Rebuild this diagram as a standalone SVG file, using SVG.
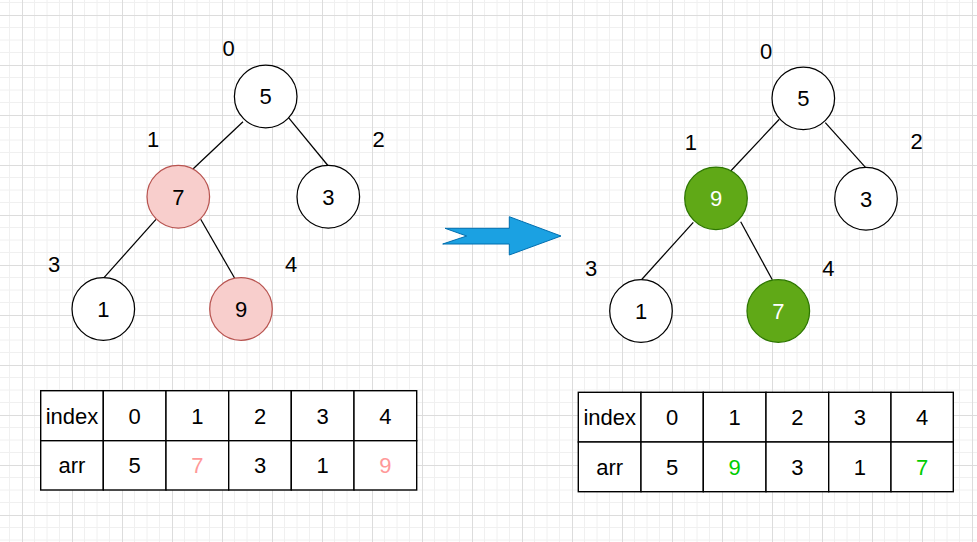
<svg xmlns="http://www.w3.org/2000/svg" width="977" height="542" viewBox="0 0 977 542">
  <defs>
    <pattern id="grid" x="22" y="15" width="50" height="50" patternUnits="userSpaceOnUse">
      <path d="M12.5 0V50M25 0V50M37.5 0V50M0 12.5H50M0 25H50M0 37.5H50" stroke="#f0f0f0" stroke-width="1" fill="none"/>
      <path d="M0.5 0V50M0 0.5H50" stroke="#dcdcdc" stroke-width="1" fill="none"/>
    </pattern>
    <style>
      text { font-family: "Liberation Sans", Arial, Helvetica, sans-serif; text-anchor: middle; fill: #000; }
      .nodeTxt { font-size: 22px; }
      .idx { font-size: 22px; }
      .tbl { font-size: 22px; }
      .plain { fill: #ffffff; stroke: #000; stroke-width: 1.25; }
      .pink { fill: #f8cecc; stroke: #b85450; stroke-width: 1.25; }
      .green { fill: #60a917; stroke: #2d7600; stroke-width: 1.25; }
      .white { fill: #ffffff; }
      .edge { stroke: #000; stroke-width: 1.25; fill: none; }
      .cell { fill: #ffffff; stroke: #000; stroke-width: 1.4; }
      .red { fill: #ff9999; }
      .grn { fill: #00cc00; }
    </style>
  </defs>
  <rect width="977" height="542" fill="#ffffff"/>
  <rect width="977" height="542" fill="url(#grid)"/>

  <g id="connectors">
    <line class="edge" x1="243" y1="121.7" x2="192.7" y2="169.3"/>
    <line class="edge" x1="288.3" y1="117.3" x2="328.3" y2="166"/>
    <line class="edge" x1="156" y1="219.3" x2="104" y2="277.7"/>
    <line class="edge" x1="200.7" y1="219.3" x2="234.7" y2="278.3"/>
    <line class="edge" x1="779.3" y1="119.3" x2="730" y2="171.7"/>
    <line class="edge" x1="825.3" y1="122.7" x2="865.7" y2="167.7"/>
    <line class="edge" x1="693.3" y1="222.3" x2="641.7" y2="279.5"/>
    <line class="edge" x1="740.7" y1="221.7" x2="772.3" y2="279.8"/>
  </g>

  <!-- Left tree -->
  <g id="L-node-5"><circle class="plain" cx="265.7" cy="96.5" r="31.3"/><text class="nodeTxt" x="265.7" y="104.3">5</text></g>
  <g id="L-node-7"><circle class="pink" cx="178.3" cy="196.7" r="31.3"/><text class="nodeTxt" x="178.3" y="204.5">7</text></g>
  <g id="L-node-3"><circle class="plain" cx="328.3" cy="196.7" r="31.3"/><text class="nodeTxt" x="328.3" y="204.5">3</text></g>
  <g id="L-node-1"><circle class="plain" cx="103.3" cy="309" r="31.3"/><text class="nodeTxt" x="103.3" y="316.8">1</text></g>
  <g id="L-node-9"><circle class="pink" cx="241" cy="309" r="31.3"/><text class="nodeTxt" x="241" y="316.8">9</text></g>

  <g id="L-index-labels">
    <text class="idx" x="228.5" y="55.7">0</text>
    <text class="idx" x="153" y="147">1</text>
    <text class="idx" x="378.5" y="146.7">2</text>
    <text class="idx" x="54" y="271.7">3</text>
    <text class="idx" x="291" y="272">4</text>
  </g>

  <!-- Right tree -->
  <g id="R-node-5"><circle class="plain" cx="803.3" cy="98.3" r="31.3"/><text class="nodeTxt" x="803.3" y="106.1">5</text></g>
  <g id="R-node-9"><circle class="green" cx="716" cy="198.3" r="31.3"/><text class="nodeTxt white" x="716" y="206.1">9</text></g>
  <g id="R-node-3"><circle class="plain" cx="866" cy="198.7" r="31.3"/><text class="nodeTxt" x="866" y="206.5">3</text></g>
  <g id="R-node-1"><circle class="plain" cx="641" cy="311" r="31.3"/><text class="nodeTxt" x="641" y="318.8">1</text></g>
  <g id="R-node-7"><circle class="green" cx="778.3" cy="311" r="31.3"/><text class="nodeTxt white" x="778.3" y="318.8">7</text></g>

  <g id="R-index-labels">
    <text class="idx" x="766" y="59.3">0</text>
    <text class="idx" x="690.8" y="150.3">1</text>
    <text class="idx" x="916.5" y="149">2</text>
    <text class="idx" x="591" y="275.7">3</text>
    <text class="idx" x="828.3" y="275.7">4</text>
  </g>

  <!-- Arrow -->
  <g id="arrow">
    <polygon points="445,228.3 509.3,228.3 509.3,216.7 561,236 509.3,255 509.3,244 442.7,244 466.7,236" fill="#1ba1e2" stroke="#006eaf" stroke-width="1"/>
  </g>

  <!-- Left table -->
  <g id="L-table">
    <rect class="cell" x="40.7" y="390.7" width="62.6" height="50"/>
    <rect class="cell" x="103.3" y="390.7" width="62.7" height="50"/>
    <rect class="cell" x="166" y="390.7" width="62.7" height="50"/>
    <rect class="cell" x="228.7" y="390.7" width="62.6" height="50"/>
    <rect class="cell" x="291.3" y="390.7" width="62.7" height="50"/>
    <rect class="cell" x="354" y="390.7" width="62.7" height="50"/>
    <rect class="cell" x="40.7" y="440.7" width="62.6" height="49.3"/>
    <rect class="cell" x="103.3" y="440.7" width="62.7" height="49.3"/>
    <rect class="cell" x="166" y="440.7" width="62.7" height="49.3"/>
    <rect class="cell" x="228.7" y="440.7" width="62.6" height="49.3"/>
    <rect class="cell" x="291.3" y="440.7" width="62.7" height="49.3"/>
    <rect class="cell" x="354" y="440.7" width="62.7" height="49.3"/>
    <text class="tbl" x="72" y="423.6">index</text>
    <text class="tbl" x="134.7" y="423.6">0</text>
    <text class="tbl" x="197.3" y="423.6">1</text>
    <text class="tbl" x="260" y="423.6">2</text>
    <text class="tbl" x="322.7" y="423.6">3</text>
    <text class="tbl" x="385.3" y="423.6">4</text>
    <text class="tbl" x="72" y="473.2">arr</text>
    <text class="tbl" x="134.7" y="473.2">5</text>
    <text class="tbl red" x="197.3" y="473.2">7</text>
    <text class="tbl" x="260" y="473.2">3</text>
    <text class="tbl" x="322.7" y="473.2">1</text>
    <text class="tbl red" x="385.3" y="473.2">9</text>
  </g>

  <!-- Right table -->
  <g id="R-table">
    <rect class="cell" x="578.3" y="392.3" width="62.7" height="49.7"/>
    <rect class="cell" x="641" y="392.3" width="62.3" height="49.7"/>
    <rect class="cell" x="703.3" y="392.3" width="62.7" height="49.7"/>
    <rect class="cell" x="766" y="392.3" width="62.7" height="49.7"/>
    <rect class="cell" x="828.7" y="392.3" width="62.3" height="49.7"/>
    <rect class="cell" x="891" y="392.3" width="62.3" height="49.7"/>
    <rect class="cell" x="578.3" y="442" width="62.7" height="49.7"/>
    <rect class="cell" x="641" y="442" width="62.3" height="49.7"/>
    <rect class="cell" x="703.3" y="442" width="62.7" height="49.7"/>
    <rect class="cell" x="766" y="442" width="62.7" height="49.7"/>
    <rect class="cell" x="828.7" y="442" width="62.3" height="49.7"/>
    <rect class="cell" x="891" y="442" width="62.3" height="49.7"/>
    <text class="tbl" x="609.7" y="425.1">index</text>
    <text class="tbl" x="672.2" y="425.1">0</text>
    <text class="tbl" x="734.7" y="425.1">1</text>
    <text class="tbl" x="797.3" y="425.1">2</text>
    <text class="tbl" x="859.8" y="425.1">3</text>
    <text class="tbl" x="922.2" y="425.1">4</text>
    <text class="tbl" x="609.7" y="474.8">arr</text>
    <text class="tbl" x="672.2" y="474.8">5</text>
    <text class="tbl grn" x="734.7" y="474.8">9</text>
    <text class="tbl" x="797.3" y="474.8">3</text>
    <text class="tbl" x="859.8" y="474.8">1</text>
    <text class="tbl grn" x="922.2" y="474.8">7</text>
  </g>
</svg>
